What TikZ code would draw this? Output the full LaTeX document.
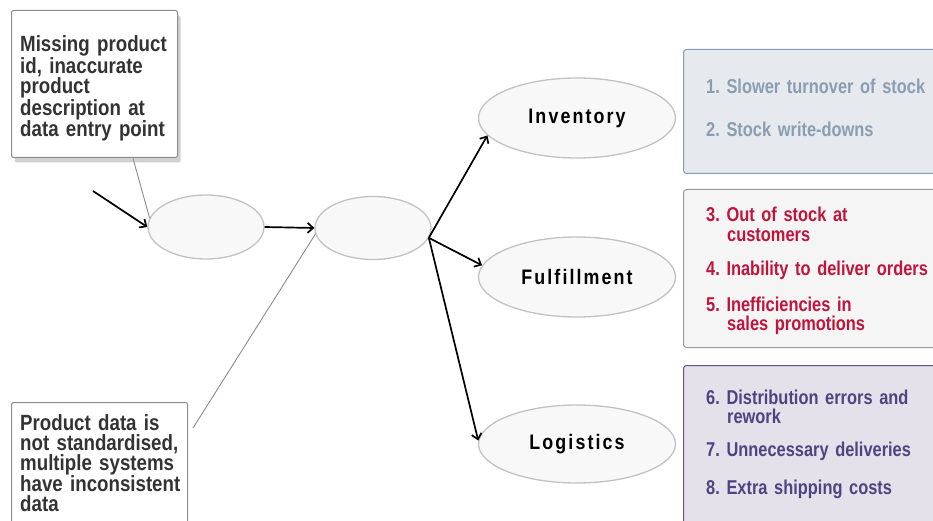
\documentclass[tikz,border=0pt]{standalone}
\usepackage{fontspec}
\setmainfont{Liberation Sans}[FakeStretch=0.85]
\newfontfamily\resfont{Liberation Sans}[FakeStretch=0.82]
\usetikzlibrary{shapes.geometric,arrows.meta,calc,shadows}
\definecolor{elfill}{HTML}{F8F8F8}
\definecolor{eldraw}{HTML}{C2C2C2}
\definecolor{darktxt}{HTML}{333333}
\definecolor{invfill}{HTML}{E6E9EE}
\definecolor{invdraw}{HTML}{8C9CB0}
\definecolor{invtext}{HTML}{8A9DB2}
\definecolor{fulfill}{HTML}{F5F5F5}
\definecolor{fuldraw}{HTML}{9A9A9A}
\definecolor{fultext}{HTML}{C0143C}
\definecolor{logfill}{HTML}{E5E1EB}
\definecolor{logdraw}{HTML}{5E5485}
\definecolor{logtext}{HTML}{4D4580}
\frenchspacing
\tikzset{
  ell/.style={ellipse, draw=eldraw, fill=elfill, line width=1.3pt, inner sep=0pt},
  lbl/.style={font=\fontsize{21}{22}\selectfont\bfseries\addfontfeature{LetterSpace=10}},
  notebox/.style={rectangle, rounded corners=2pt, draw=black!45, fill=white, line width=1pt, anchor=north west, inner sep=0pt},
  notetxt/.style={anchor=base west, inner sep=0pt, text width=180pt, align=left, text=darktxt,
     font=\fontsize{22}{20}\selectfont\bfseries\frenchspacing},
  resbox/.style={rectangle, rounded corners=3pt, line width=1pt, anchor=north west, inner sep=0pt},
  restxt/.style={anchor=base west, inner sep=0pt, text width=240pt, align=left,
     font=\resfont\fontsize{20}{19.5}\selectfont\bfseries\frenchspacing},
  flow/.style={line width=1.7pt, -{Straight Barb[length=5.5pt,width=10pt]}},
  link/.style={draw=black!45, line width=0.9pt},
}
\begin{document}
\begin{tikzpicture}[x=1pt,y=-1pt]
\useasboundingbox (0,0) rectangle (933,521);
\clip (0,0) rectangle (933,521);
% left note boxes
\node[notebox, minimum width=166pt, minimum height=147pt,
  drop shadow={shadow xshift=3pt, shadow yshift=-5pt, opacity=0.3, fill=black!60}] (box1) at (11,10) {};
\node[notetxt] (t1) at (20,52) {Missing product\\id, inaccurate\\product\\description at\\data entry point};
\node[notebox, minimum width=176pt, minimum height=140pt] (box2) at (11,402) {};
\node[notetxt] (t2) at (20,430) {Product data is\\not standardised,\\multiple systems\\have inconsistent\\data};
% ellipses
\node[ell, minimum width=116pt, minimum height=64pt] (a) at (206,227) {};
\node[ell, minimum width=116pt, minimum height=63pt] (b) at (373,228) {};
\node[ell, minimum width=197pt, minimum height=80pt, lbl] (inv) at (577,118) {Inventory};
\node[ell, minimum width=197pt, minimum height=80pt, lbl] (ful) at (577,277) {Fulfillment};
\node[ell, minimum width=197pt, minimum height=78pt, lbl] (log) at (577,444) {Logistics};
% result boxes
\node[resbox, draw=invdraw, fill=invfill, minimum width=270pt, minimum height=124pt] (rb1) at (683,49) {};
\node[restxt, text=invtext] (r1) at (706,94) {1. Slower turnover of stock\\[23.5pt]2. Stock write-downs};
\node[resbox, draw=fuldraw, fill=fulfill, minimum width=270pt, minimum height=158pt] (rb2) at (683,189) {};
\node[restxt, text=fultext] (r2) at (706,221.7) {3. Out of stock at\\\hspace*{21pt}customers\\[15pt]4. Inability to deliver orders\\[16pt]5. Inefficiencies in\\\hspace*{21pt}sales promotions};
\node[resbox, draw=logdraw, fill=logfill, minimum width=270pt, minimum height=180pt] (rb3) at (683,365) {};
\node[restxt, text=logtext] (r3) at (706,404) {6. Distribution errors and\\\hspace*{21pt}rework\\[13.5pt]7. Unnecessary deliveries\\[18.5pt]8. Extra shipping costs};
% connectors
\coordinate (src) at (93,191);
\coordinate (c1) at ($(box1.south west)!0.73!(box1.south east)$);
\coordinate (c2) at (193,428);
\draw[link] (c1) -- (a.171);
\draw[link] (c2) -- (b.186);
\draw[flow] (src) -- (a.west);
\draw[flow] (a.east) -- (b.west);
\draw[flow] (b.-10) -- (inv.191);
\draw[flow] (b.-10) -- (ful.173);
\draw[flow] (b.-10) -- (log.178);
\end{tikzpicture}
\end{document}
